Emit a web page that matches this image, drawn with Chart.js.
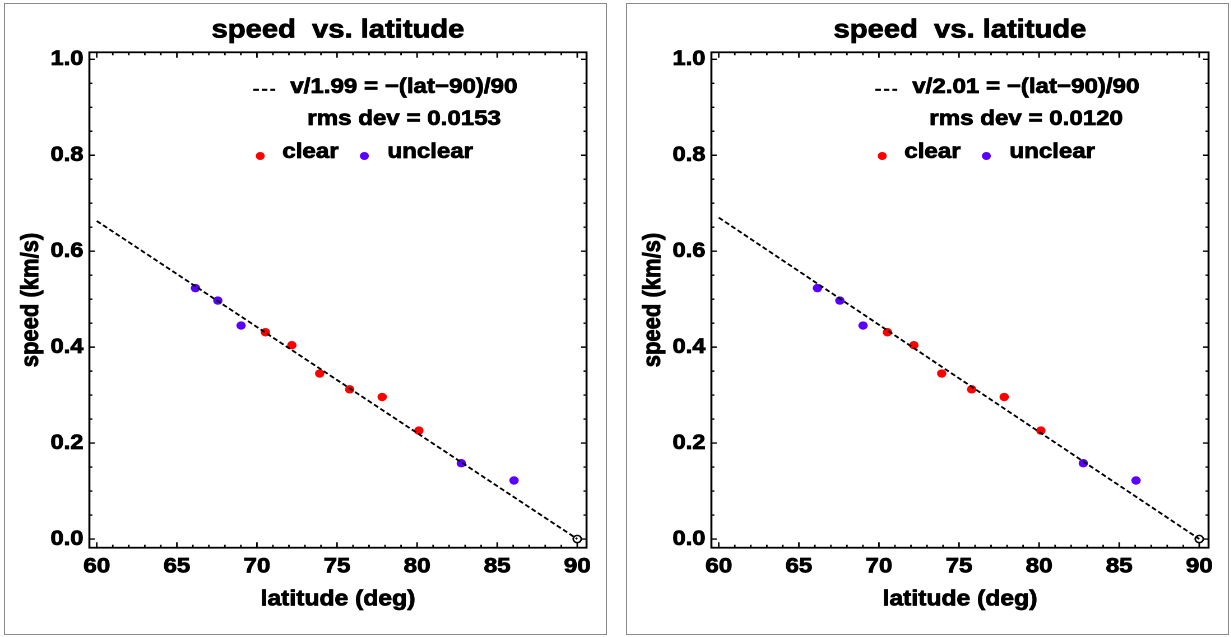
<!DOCTYPE html>
<html>
<head>
<meta charset="utf-8">
<title>speed vs. latitude</title>
<script src="https://cdn.jsdelivr.net/npm/chart.js@4.4.1/dist/chart.umd.min.js"></script>
<style>
  html, body { margin: 0; padding: 0; background: #fff; }
  body { width: 1231px; height: 637px; position: relative; overflow: hidden; }
  .panel { position: absolute; top: 3px; width: 603px; height: 632px; border: 1px solid #8a8a8a; box-sizing: border-box; }
  /* the original's bold text is a bit wider than Arial, so the chart is stretched sideways */
  .wrap { position: absolute; left: 0; top: 0; width: 536.6px; height: 630px; transform: scaleX(1.12); transform-origin: 0 0; }
</style>
</head>
<body>
<div class="panel" style="left:4px"><div class="wrap"><canvas id="leftChart"></canvas></div></div>
<div class="panel" style="left:626px"><div class="wrap"><canvas id="rightChart"></canvas></div></div>
<script>
// measured points (latitude in deg, speed in km/s)
const clearLat = [70.53, 72.18, 73.92, 75.79, 77.82, 80.11];
const clearSpeed = [0.431, 0.404, 0.345, 0.312, 0.296, 0.226];
const unclearLat = [66.16, 67.56, 69.01, 82.76, 86.05];
const unclearSpeed = [0.523, 0.497, 0.445, 0.158, 0.122];
const originLat = [90];
const originSpeed = [0];

// fitted lines, end points
const fitLat = [60, 90];
const fitSpeedLeft = [0.663, 0];
const fitSpeedRight = [0.670, 0];

const xTicks = [60, 65, 70, 75, 80, 85, 90];
const yTicks = [0, 0.2, 0.4, 0.6, 0.8, 1.0];

const FONT = "'Liberation Sans', Arial, sans-serif";
const RED = '#ff0000';
const BLUE = '#5a00ff';
const HEAVY = 0.8;  // extra stroke round the glyphs, the original text is heavier than Arial Bold

function pts(xs, ys) {
  return xs.map((v, i) => ({ x: v, y: ys[i] }));
}

function boldText(ctx, text, x, y) {
  ctx.strokeText(text, x, y);
  ctx.fillText(text, x, y);
}

// Mathematica style frame with inward ticks on all four sides
const frameTicks = {
  id: 'frameTicks',
  afterDatasetsDraw(chart) {
    const { ctx, chartArea: a, scales: { x, y } } = chart;
    ctx.save();
    ctx.strokeStyle = '#000';
    ctx.lineWidth = 1.4;
    ctx.beginPath();
    for (let v = 60; v <= 90; v++) {
      const px = x.getPixelForValue(v);
      const len = v % 5 === 0 ? 5.5 : 3;
      ctx.moveTo(px, a.bottom); ctx.lineTo(px, a.bottom - len);
      ctx.moveTo(px, a.top); ctx.lineTo(px, a.top + len);
    }
    for (let i = 0; i <= 20; i++) {
      const py = y.getPixelForValue(i * 0.05);
      const len = i % 4 === 0 ? 4.9 : 2.7;
      ctx.moveTo(a.left, py); ctx.lineTo(a.left + len, py);
      ctx.moveTo(a.right, py); ctx.lineTo(a.right - len, py);
    }
    ctx.stroke();
    ctx.lineWidth = 1.8;
    ctx.strokeRect(a.left, a.top, a.right - a.left, a.bottom - a.top);
    ctx.restore();
  }
};

// thicken the chart title and the axis titles drawn by Chart.js
const heavyTitles = {
  id: 'heavyTitles',
  afterDraw(chart) {
    const { ctx, scales: { x, y } } = chart;
    const tb = chart.titleBlock;
    ctx.save();
    ctx.strokeStyle = '#000';
    ctx.lineWidth = HEAVY;
    ctx.lineJoin = 'round';
    ctx.textAlign = 'center';
    ctx.textBaseline = 'middle';

    ctx.font = 'bold 26px ' + FONT;
    ctx.strokeText(tb.options.text, (tb.left + tb.right) / 2, tb.top + 10.7 + 26 * 1.2 / 2);

    ctx.font = 'bold 22px ' + FONT;
    ctx.strokeText(x.options.title.text, (x.left + x.right) / 2, x.bottom - 21.5 - 22 * 1.2 / 2);

    ctx.translate(y.left + 10 + 22 * 1.2 / 2, (y.top + y.bottom) / 2);
    ctx.rotate(-Math.PI / 2);
    ctx.strokeText(y.options.title.text, 0, 0);
    ctx.restore();
  }
};

// the text block inside the plot
const fitNote = {
  id: 'fitNote',
  afterDraw(chart, args, opts) {
    const { ctx, chartArea: a } = chart;
    ctx.save();
    ctx.fillStyle = '#000';
    ctx.strokeStyle = '#000';
    ctx.lineJoin = 'round';
    ctx.font = 'bold 21.5px ' + FONT;
    ctx.textBaseline = 'alphabetic';
    ctx.textAlign = 'left';

    ctx.lineWidth = 2.2;
    ctx.setLineDash([5, 2.6]);
    ctx.beginPath();
    ctx.moveTo(a.left + 146.2, a.top + 37.5);
    ctx.lineTo(a.left + 165.8, a.top + 37.5);
    ctx.stroke();
    ctx.setLineDash([]);

    ctx.lineWidth = HEAVY;
    boldText(ctx, opts.fit, a.left + 179.2, a.top + 40.7);
    boldText(ctx, opts.rms, a.left + 194.4, a.top + 72.7);
    boldText(ctx, 'clear', a.left + 172.1, a.top + 105.5);
    boldText(ctx, 'unclear', a.left + 265.8, a.top + 105.5);

    ctx.fillStyle = RED;
    ctx.beginPath();
    ctx.arc(a.left + 152.4, a.top + 103.7, 4, 0, Math.PI * 2);
    ctx.fill();
    ctx.fillStyle = BLUE;
    ctx.beginPath();
    ctx.arc(a.left + 245.3, a.top + 103.7, 4, 0, Math.PI * 2);
    ctx.fill();
    ctx.restore();
  }
};

function makeChart(id, fitSpeed, fitText, rmsText) {
  const ctx = document.getElementById(id).getContext('2d');
  return new Chart(ctx, {
    type: 'scatter',
    data: {
      datasets: [{
        type: 'line',
        label: 'fit',
        data: pts(fitLat, fitSpeed),
        borderColor: '#000',
        borderWidth: 1.8,
        borderDash: [4.5, 2.5],
        pointRadius: 0,
        fill: false
      },
      {
        label: 'clear',
        data: pts(clearLat, clearSpeed),
        backgroundColor: RED,
        borderWidth: 0,
        pointRadius: 4.2
      },
      {
        label: 'unclear',
        data: pts(unclearLat, unclearSpeed),
        backgroundColor: BLUE,
        borderWidth: 0,
        pointRadius: 4.2
      },
      {
        label: 'origin',
        data: pts(originLat, originSpeed),
        backgroundColor: 'rgba(0,0,0,0)',
        borderColor: '#000',
        borderWidth: 1.5,
        pointRadius: 3.6
      }]
    },
    options: {
      responsive: true,
      maintainAspectRatio: false,
      animation: false,
      devicePixelRatio: 2,
      events: [],
      layout: { padding: { left: 0, right: 17.85, top: 0, bottom: 0 } },
      plugins: {
        legend: { display: false },
        tooltip: { enabled: false },
        title: {
          display: true,
          text: 'speed  vs. latitude',
          fullSize: false,
          color: '#000',
          font: { family: FONT, size: 26, weight: 'bold' },
          padding: { top: 10.7, bottom: 6.4 }
        },
        fitNote: { fit: fitText, rms: rmsText }
      },
      scales: {
        x: {
          type: 'linear',
          min: 59.54,
          max: 90.58,
          border: { display: false },
          grid: { display: false, drawTicks: false },
          afterBuildTicks: s => { s.ticks = xTicks.map(v => ({ value: v })); },
          afterFit: s => { s.height = 86.3; },
          ticks: {
            color: '#000',
            textStrokeColor: '#000',
            textStrokeWidth: HEAVY,
            font: { family: FONT, size: 21.5, weight: 'bold' },
            padding: 6,
            maxRotation: 0,
            autoSkip: false
          },
          title: {
            display: true,
            text: 'latitude (deg)',
            color: '#000',
            font: { family: FONT, size: 22, weight: 'bold' },
            padding: { top: 0, bottom: 21.5 }
          }
        },
        y: {
          type: 'linear',
          min: -0.0181,
          max: 1.0146,
          border: { display: false },
          grid: { display: false, drawTicks: false },
          afterBuildTicks: s => { s.ticks = yTicks.map(v => ({ value: v })); },
          afterFit: s => { s.width = 75.27; },
          ticks: {
            color: '#000',
            textStrokeColor: '#000',
            textStrokeWidth: HEAVY,
            font: { family: FONT, size: 21, weight: 'bold' },
            padding: 5.4,
            autoSkip: false,
            callback: v => v.toFixed(1)
          },
          title: {
            display: true,
            text: 'speed (km/s)',
            color: '#000',
            font: { family: FONT, size: 22, weight: 'bold' },
            padding: { top: 10, bottom: 0 }
          }
        }
      }
    },
    plugins: [frameTicks, fitNote, heavyTitles]
  });
}

makeChart('leftChart', fitSpeedLeft, 'v/1.99 = \u2212(lat\u221290)/90', 'rms dev = 0.0153');
makeChart('rightChart', fitSpeedRight, 'v/2.01 = \u2212(lat\u221290)/90', 'rms dev = 0.0120');
</script>
</body>
</html>
